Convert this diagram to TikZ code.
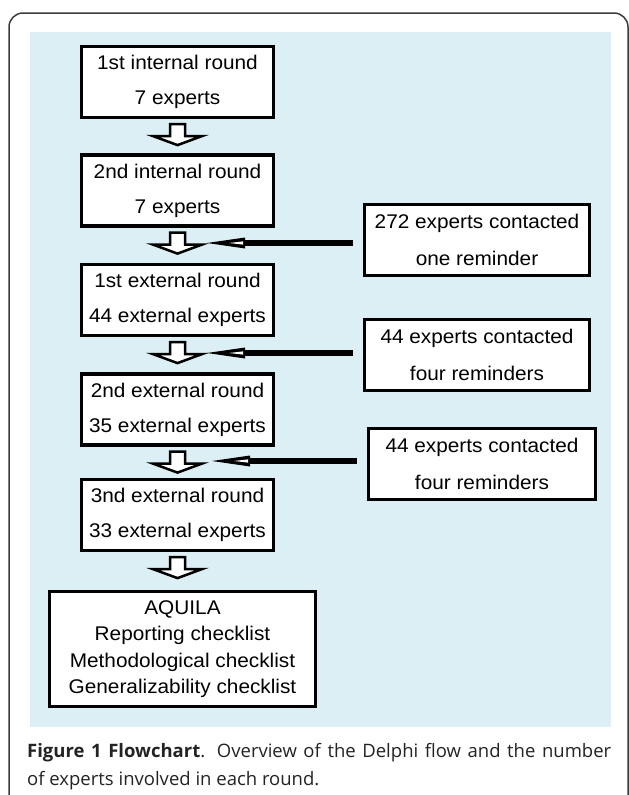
\documentclass[tikz,border=0pt]{standalone}
\usepackage{fontspec}
\usetikzlibrary{calc}
\newfontfamily\boxfont[FakeStretch=1.05]{Liberation Sans}
\newfontfamily\capfont{Open Sans}
\definecolor{panelblue}{RGB}{220,239,245}
\definecolor{framegray}{RGB}{60,60,60}
\definecolor{captext}{RGB}{35,35,35}
\newcommand{\downarrowblock}[1]{%
  \draw[blockarrow] ($(#1.south)+(-7.5,5)$) -- ++(15,0) -- ++(0,12) -- ++(17,0)
    -- ++(-24.5,9) -- ++(-24.5,-9) -- ++(17,0) -- cycle;}
\newcommand{\sidearrow}[2]{%
  \draw[sideline] ($(#1.west |- #2)+(-10,0)$) -- ($(#2)+(36,0)$);
  \fill[black] (#2) -- ++(38,-5.5) -- ++(0,11) -- cycle;
  \fill[white] ($(#2)+(22,0)$) -- ++(14,-1.6) -- ++(0,3.2) -- cycle;}
\tikzset{
  lbox/.style={draw=black, line width=3.2pt, fill=white, inner sep=0pt,
    minimum width=192pt, minimum height=71pt, align=center,
    font=\boxfont\fontsize{19.8}{35}\selectfont},
  rbox/.style={lbox, minimum width=225pt, font=\boxfont\fontsize{19.8}{37.5}\selectfont},
  blockarrow/.style={draw=black, fill=white, line width=2.5pt, line join=miter},
  sideline/.style={draw=black, line width=6pt},
  captxt/.style={anchor=base west, inner sep=0pt, text=captext,
    font=\capfont\fontsize{18.5}{24}\selectfont}
}
\begin{document}
\begin{tikzpicture}[x=1pt,y=-1pt]
\useasboundingbox (0,0) rectangle (629,795);
% frame and panel
\draw[framegray, line width=1.5pt, rounded corners=14pt] (9,796) -- (9,13) -- (628,13) -- (628,796);
\fill[panelblue] (30,32) rectangle (611,727);
% left column
\node[lbox] (b1) at (177.5,82) {1st internal round\\7 experts};
\node[lbox] (b2) at (177.5,190.5) {2nd internal round\\7 experts};
\node[lbox] (b3) at (177.5,300) {1st external round\\44 external experts};
\node[lbox] (b4) at (177.5,409.5) {2nd external round\\35 external experts};
\node[lbox] (b5) at (177.5,515) {3nd external round\\33 external experts};
\node[lbox, minimum width=266pt, minimum height=115pt,
  font=\boxfont\fontsize{19.8}{26.5}\selectfont] (b6) at (182.5,649)
  {AQUILA\\Reporting checklist\\Methodological checklist\\Generalizability checklist};
% right column
\node[rbox] (r1) at (477,240) {272 experts contacted\\one reminder};
\node[rbox] (r2) at (477,355) {44 experts contacted\\four reminders};
\node[rbox, minimum width=227pt] (r3) at (482,464) {44 experts contacted\\four reminders};
% down arrows
\downarrowblock{b1}
\downarrowblock{b2}
\downarrowblock{b3}
\downarrowblock{b4}
\downarrowblock{b5}
% side arrows
\coordinate (t1) at (207,243);
\coordinate (t2) at (207,353);
\coordinate (t3) at (212,461);
\sidearrow{r1}{t1}
\sidearrow{r2}{t2}
\sidearrow{r3}{t3}
% caption
\node[captxt] (cap1) at (27,757) {\makebox[584pt][s]{\textbf{Figure 1 Flowchart}. Overview of the Delphi flow and the number}};
\node[captxt] (cap2) at (27,785) {of experts involved in each round.};
\end{tikzpicture}
\end{document}
